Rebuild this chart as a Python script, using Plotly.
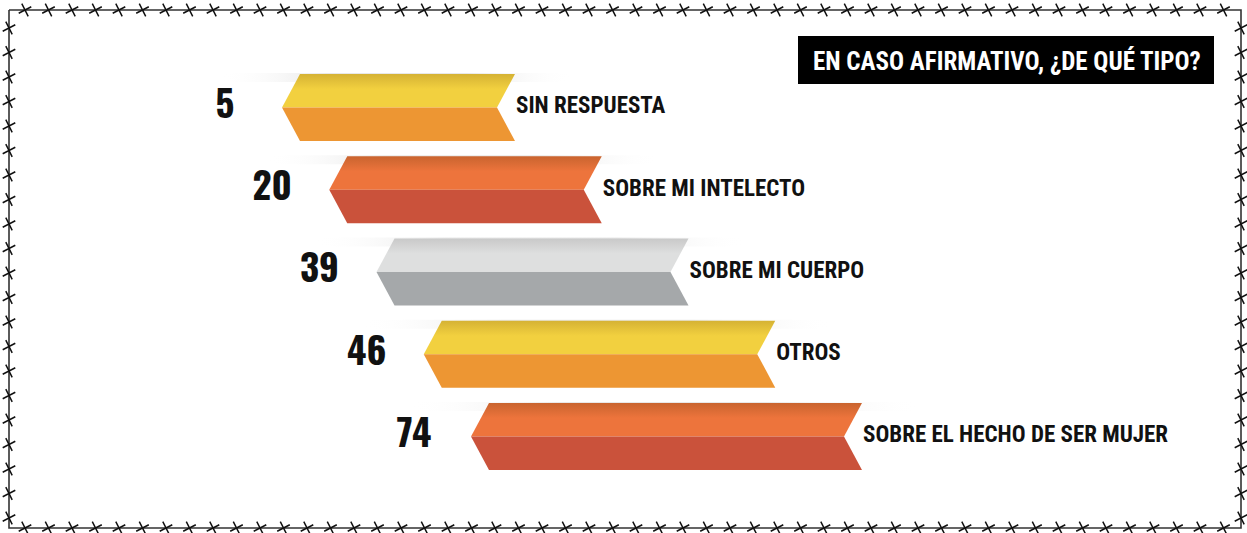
import numpy as np
import plotly.graph_objects as go

# ---- data ----
labels = ["SIN RESPUESTA", "SOBRE MI INTELECTO", "SOBRE MI CUERPO",
          "OTROS", "SOBRE EL HECHO DE SER MUJER"]
values = [5, 20, 39, 46, 74]
title = "EN CASO AFIRMATIVO, ¿DE QUÉ TIPO?"

# ---- styles ----
top_colors = ["#f2d03f", "#ed743c", "#dedfdf", "#f2d03f", "#ed743c"]
top_dark = ["#d5b234", "#c9642f", "#c9c9c9", "#d5b234", "#c9642f"]
bot_colors = ["#ed9633", "#ca523b", "#a5a8aa", "#ed9633", "#ca523b"]
LABEL_FONT = "Roboto Condensed, Oswald, sans-serif"
NUM_FONT = "Oswald, Roboto Condensed, sans-serif"

W, H = 1247, 533

fig = go.Figure()

# staircase layout (one step per rank)
for i, (lab, val) in enumerate(zip(labels, values)):
	top = 74 + 82.25 * i
	mid = top + 33.5
	bot = top + 67
	tip = 282 + 47.25 * i
	left = tip + 18
	right = 515 + 86.75 * i
	notch = right - 18

	# soft shadow behind the top edge
	fig.add_trace(go.Scatter(
		x=[tip - 62, right + 58, right + 58, tip - 62, tip - 62],
		y=[top - 1, top - 1, top + 8, top + 8, top - 1],
		mode="lines", line=dict(width=0), fill="toself",
		fillgradient=dict(type="horizontal", start=tip - 62, stop=right + 58,
			colorscale=[[0, "rgba(255,255,255,0)"], [0.3, "#e8e8e8"],
				[0.7, "#e8e8e8"], [1, "rgba(255,255,255,0)"]]),
		hoverinfo="skip", showlegend=False))

	# upper (lighter) half
	fig.add_trace(go.Scatter(
		x=[tip, left, right, notch, tip],
		y=[mid, top, top, mid, mid],
		mode="lines", line=dict(width=0), fill="toself",
		fillgradient=dict(type="vertical", start=top, stop=mid,
			colorscale=[[0, top_dark[i]], [0.45, top_colors[i]], [1, top_colors[i]]]),
		hoverinfo="skip", showlegend=False))

	# lower (darker) half
	fig.add_trace(go.Scatter(
		x=[tip, notch, right, left, tip],
		y=[mid, mid, bot, bot, mid],
		mode="lines", line=dict(width=0), fill="toself",
		fillcolor=bot_colors[i],
		hoverinfo="skip", showlegend=False))

	# value and category text
	fig.add_trace(go.Scatter(
		x=[tip - 57], y=[mid + 1], mode="text", text=[str(val)],
		textposition="middle center",
		textfont=dict(family=NUM_FONT, size=37, color="#111111", weight="bold"),
		hoverinfo="skip", showlegend=False))
	fig.add_trace(go.Scatter(
		x=[right + 1], y=[mid], mode="text", text=[lab],
		textposition="middle right",
		textfont=dict(family=LABEL_FONT, size=23, color="#111111", weight="bold"),
		hoverinfo="skip", showlegend=False))

# barbed wire frame
x0, x1, y0, y1 = 9, 1241, 10, 528
bx = np.arange(25, x1 - 5, 23.5)
by = np.arange(28, y1 - 5, 24.5)
fig.add_trace(go.Scatter(
	x=[x0, x1, x1, x0, x0], y=[y0, y0, y1, y1, y0], mode="lines",
	line=dict(color="#333333", width=1.6), hoverinfo="skip", showlegend=False))
barb_x = np.concatenate([bx, bx, np.full(len(by), x0), np.full(len(by), x1)])
barb_y = np.concatenate([np.full(len(bx), y0), np.full(len(bx), y1), by, by])
fig.add_trace(go.Scatter(
	x=barb_x, y=barb_y, mode="markers",
	marker=dict(symbol="x-thin", size=10, angle=18,
		line=dict(color="#111111", width=1.5)),
	hoverinfo="skip", showlegend=False))

# title box
fig.add_shape(type="rect", x0=798, x1=1214, y0=36, y1=84,
	fillcolor="#000000", line=dict(width=0), layer="below")
fig.add_annotation(x=1007, y=61, text=title, showarrow=False,
	font=dict(family=LABEL_FONT, size=25, color="white", weight="bold"),
	xanchor="center", yanchor="middle")

fig.update_xaxes(range=[0, W], visible=False, fixedrange=True)
fig.update_yaxes(range=[H, 0], visible=False, fixedrange=True)
fig.update_layout(width=W, height=H, margin=dict(l=0, r=0, t=0, b=0),
	paper_bgcolor="white", plot_bgcolor="white")

# page body has an 8px default margin; drop it so the chart fills the window
fig.write_html("out.html", config={"displayModeBar": False},
	post_script="document.body.style.margin='0px';")
